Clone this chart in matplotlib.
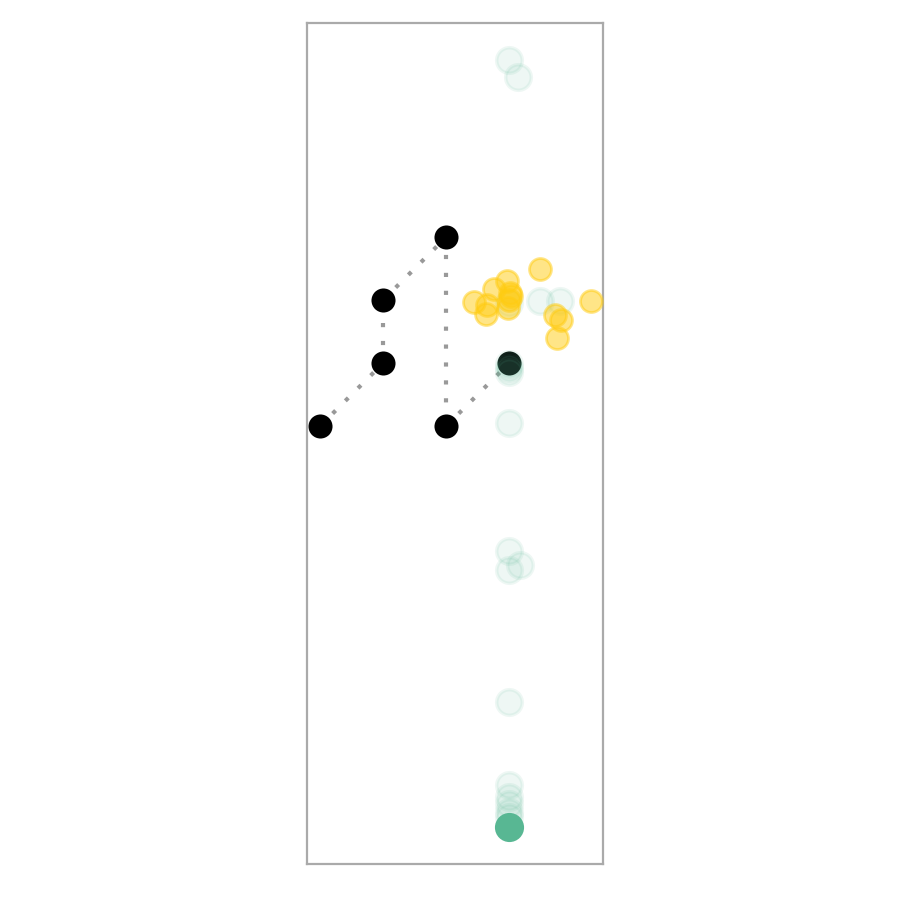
import matplotlib
matplotlib.use('Agg')
import matplotlib.pyplot as plt

# cây (nút đen) và các cạnh nối
node_x = [0, 1, 1, 2, 2, 3]
node_y = [0, 1, 2, 3, 0, 1]
edges = [(0, 1), (1, 2), (2, 3), (3, 4), (4, 5)]

# các điểm xanh mờ
faint_x = [3.0, 3.14, 3.0, 3.0, 3.0, 3.0, 3.0, 3.0, 3.17, 3.0, 3.0, 3.0, 3.0, 3.0,
           3.0, 3.49, 3.81, 3.0]
faint_y = [5.81, 5.54, 0.99, 0.93, 0.86, 0.05, -1.98, -2.29, -2.21, -4.38, -5.70, -5.88,
           -6.00, -6.12, 1.98, 1.98, 1.95]
faint_y = faint_y[:14] + [-6.2] + faint_y[14:]

# các điểm vàng
yellow_x = [3.49, 2.44, 2.65, 2.63, 2.76, 2.97, 3.0, 3.03, 2.98, 3.02, 4.30, 3.73, 3.83, 3.76]
yellow_y = [2.49, 1.97, 1.92, 1.78, 2.17, 2.30, 2.00, 2.06, 1.87, 2.12, 1.98, 1.76, 1.68, 1.40]

# điểm xanh đậm
green_x = [3.0]
green_y = [-6.365]

fig = plt.figure(figsize=(9, 9), dpi=100)
ax = fig.add_axes([307 / 900, 36 / 900, 296 / 900, 841 / 900])

for a, b in edges:
    ax.plot([node_x[a], node_x[b]], [node_y[a], node_y[b]], color='#999999',
            linewidth=3, linestyle=(0, (1, 3.3)), zorder=1)

ax.scatter(node_x, node_y, s=300, color='black', linewidths=0, zorder=2)
ax.scatter(faint_x, faint_y, s=340, color='#5ab794', alpha=0.1, linewidths=2.5,
           edgecolors='#5ab794', zorder=3)
ax.scatter(yellow_x, yellow_y, s=250, color='#ffcc11', alpha=0.5, linewidths=2,
           edgecolors='#ffcc11', zorder=4)
ax.scatter(green_x, green_y, s=440, color='#58b793', linewidths=0, zorder=5)

ax.set_xlim(-0.206, 4.49)
ax.set_ylim(-6.95, 6.40)
ax.set_xticks([])
ax.set_yticks([])
for sp in ax.spines.values():
    sp.set_color('#aaaaaa')
    sp.set_linewidth(1.6)

plt.savefig('out.png', dpi=100)
